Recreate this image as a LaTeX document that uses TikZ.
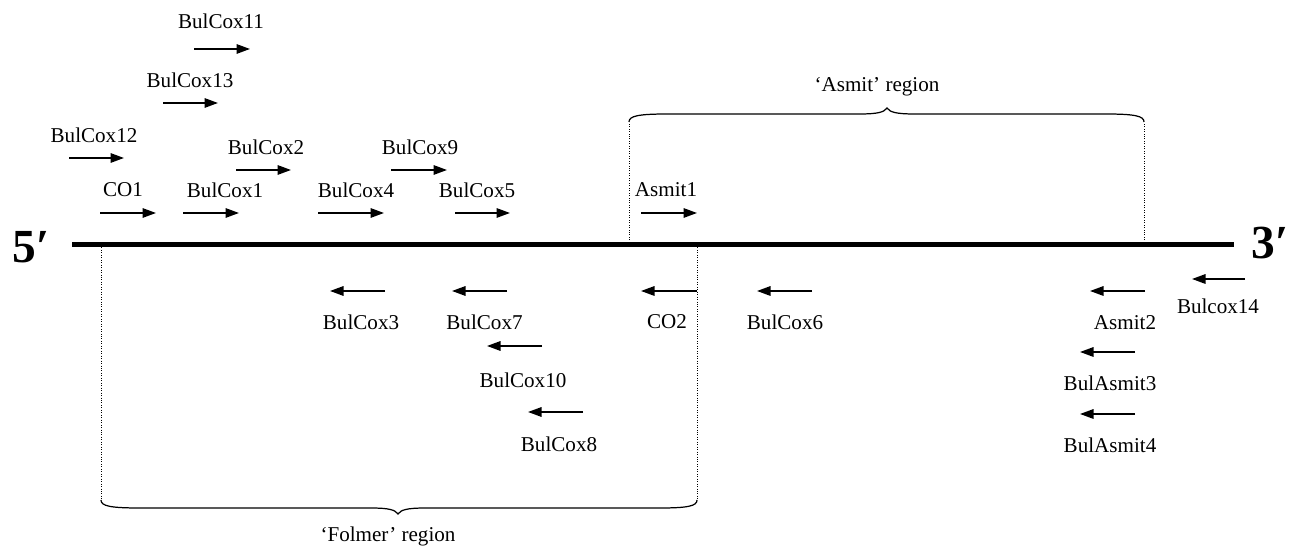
\documentclass[tikz,border=0pt]{standalone}
\usepackage{fontspec}
\setmainfont{Liberation Serif}
\usetikzlibrary{arrows.meta}
\begin{document}
\begin{tikzpicture}[
		primer/.style={line width=0.9pt, -{Triangle[length=2.7mm,width=1.9mm]}},
		lbl/.style={inner sep=0pt, font=\fontsize{12}{14}\selectfont},
		bnd/.style={densely dotted, line width=0.4pt},
		brc/.style={line width=0.7pt},
		endlbl/.style={inner sep=0pt, font=\fontsize{27}{32}\selectfont\bfseries}]
		\useasboundingbox (0,0) rectangle (25.84,10.92);
		\def\yl{6.02};
		% template strand
		\draw[line width=0.1cm] (1.44,\yl) -- (24.68,\yl);
		\node[endlbl] (five) at (0.62,5.98) {5′};
		\node[endlbl] (three) at (25.40,6.06) {3′};
		% forward primers
		\draw[primer] (3.88,9.94) -- (5.00,9.94);
		\node[lbl] (bulcox11) at (4.42,10.50) {BulCox11};
		\draw[primer] (3.26,8.86) -- (4.36,8.86);
		\node[lbl] (bulcox13) at (3.80,9.32) {BulCox13};
		\draw[primer] (1.38,7.76) -- (2.48,7.76);
		\node[lbl] (bulcox12) at (1.88,8.22) {BulCox12};
		\draw[primer] (4.72,7.52) -- (5.82,7.52);
		\node[lbl] (bulcox2) at (5.32,7.98) {BulCox2};
		\draw[primer] (2.00,6.66) -- (3.12,6.66);
		\node[lbl] (co1) at (2.46,7.12) {CO1};
		\draw[primer] (3.66,6.66) -- (4.78,6.66);
		\node[lbl] (bulcox1) at (4.50,7.12) {BulCox1};
		\draw[primer] (6.36,6.66) -- (7.68,6.66);
		\node[lbl] (bulcox4) at (7.12,7.12) {BulCox4};
		\draw[primer] (7.82,7.52) -- (8.94,7.52);
		\node[lbl] (bulcox9) at (8.40,7.98) {BulCox9};
		\draw[primer] (9.10,6.66) -- (10.20,6.66);
		\node[lbl] (bulcox5) at (9.54,7.12) {BulCox5};
		\draw[primer] (12.82,6.66) -- (13.94,6.66);
		\node[lbl] (asmit1) at (13.32,7.12) {Asmit1};
		% reverse primers
		\draw[primer] (7.70,5.10) -- (6.60,5.10);
		\node[lbl] (bulcox3) at (7.22,4.48) {BulCox3};
		\draw[primer] (10.14,5.10) -- (9.04,5.10);
		\node[lbl] (bulcox7) at (9.69,4.48) {BulCox7};
		\draw[primer] (10.84,4.00) -- (9.74,4.00);
		\node[lbl] (bulcox10) at (10.46,3.32) {BulCox10};
		\draw[primer] (11.66,2.68) -- (10.56,2.68);
		\node[lbl] (bulcox8) at (11.18,2.04) {BulCox8};
		\draw[primer] (13.94,5.10) -- (12.82,5.10);
		\node[lbl] (co2) at (13.34,4.48) {CO2};
		\draw[primer] (16.24,5.10) -- (15.14,5.10);
		\node[lbl] (bulcox6) at (15.70,4.48) {BulCox6};
		\draw[primer] (22.90,5.10) -- (21.80,5.10);
		\node[lbl] (asmit2) at (22.50,4.46) {Asmit2};
		\draw[primer] (22.70,3.88) -- (21.60,3.88);
		\node[lbl] (bulasmit3) at (22.20,3.26) {BulAsmit3};
		\draw[primer] (22.70,2.64) -- (21.60,2.64);
		\node[lbl] (bulasmit4) at (22.20,2.02) {BulAsmit4};
		\draw[primer] (24.90,5.34) -- (23.84,5.34);
		\node[lbl] (bulcox14) at (24.36,4.80) {Bulcox14};
		% Folmer region
		\draw[bnd] (2.02,\yl) -- (2.02,0.92);
		\draw[bnd] (13.94,\yl) -- (13.94,0.92);
		\draw[brc] (2.02,0.92) .. controls (2.02,0.80) and (2.20,0.76) .. (2.80,0.76) -- (7.40,0.76)
			.. controls (7.80,0.76) and (7.90,0.72) .. (7.96,0.64)
			.. controls (8.02,0.72) and (8.12,0.76) .. (8.52,0.76) -- (13.20,0.76)
			.. controls (13.76,0.76) and (13.94,0.80) .. (13.94,0.92);
		\node[lbl, anchor=base] (folmer) at (7.76,0.08) {‘Folmer’ region};
		% Asmit region
		\draw[bnd] (12.58,\yl) -- (12.58,8.48);
		\draw[bnd] (22.88,\yl) -- (22.88,8.48);
		\draw[brc] (12.58,8.48) .. controls (12.58,8.60) and (12.76,8.64) .. (13.36,8.64) -- (17.18,8.64)
			.. controls (17.58,8.64) and (17.68,8.68) .. (17.74,8.76)
			.. controls (17.80,8.68) and (17.90,8.64) .. (18.30,8.64) -- (22.10,8.64)
			.. controls (22.70,8.64) and (22.88,8.60) .. (22.88,8.48);
		\node[lbl, anchor=base] (asmit) at (17.54,9.08) {‘Asmit’ region};
\end{tikzpicture}
\end{document}
